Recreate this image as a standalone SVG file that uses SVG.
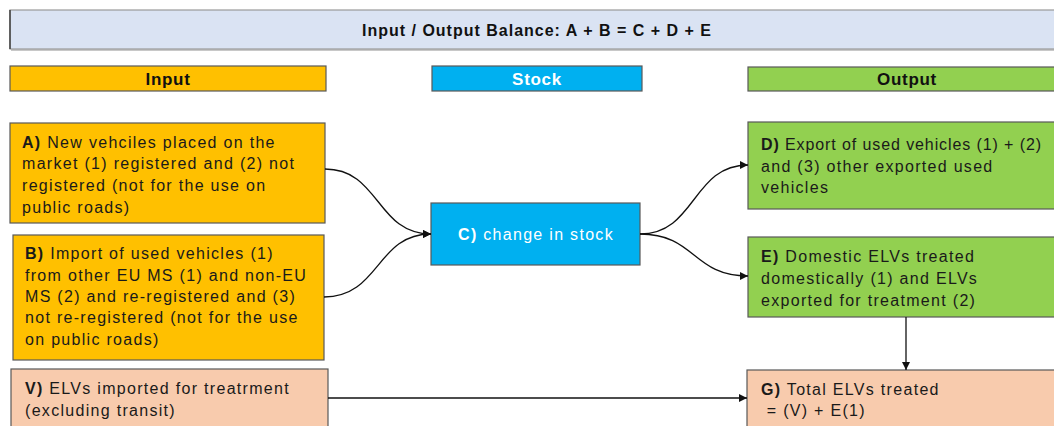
<svg xmlns="http://www.w3.org/2000/svg" width="1054" height="426" viewBox="0 0 1054 426">
<style>
  .box { stroke: #595959; stroke-width: 1.2; }
  .shadow { fill: #c8c8c8; }
  .t { font-family: "Liberation Sans", Arial, sans-serif; font-size: 16px; letter-spacing: 1.3px; fill: #1a1a1a; }
  .h { font-family: "Liberation Sans", Arial, sans-serif; font-size: 17px; font-weight: bold; letter-spacing: 0.7px; text-anchor: middle; fill: #111; }
  .b { font-weight: bold; }
  .conn { fill: none; stroke: #111; stroke-width: 1.3; }
  .orange { fill: #FFC000; }
  .blue { fill: #00B0F0; }
  .green { fill: #92D050; }
  .peach { fill: #F8CBAD; }
</style>
<defs>
  <marker id="arr" viewBox="0 0 10 10" refX="10" refY="5" markerWidth="8" markerHeight="8" markerUnits="userSpaceOnUse" orient="auto">
    <path d="M0,0 L10,5 L0,10 z" fill="#111"/>
  </marker>
</defs>
<rect width="1054" height="426" fill="#ffffff"/>

<g id="banner">
  <rect class="shadow" x="11" y="12" width="1060" height="39"/>
  <rect x="10" y="10" width="1060" height="39" fill="#DAE3F3" stroke="#9a9a9a" stroke-width="1.2"/>
  <line x1="10" y1="10" x2="10" y2="49" stroke="#404040" stroke-width="1.5"/>
  <text class="h" x="537" y="36" style="font-size:16px;letter-spacing:1px">Input / Output Balance: A + B = C + D + E</text>
</g>

<g id="hdr-input">
  <rect class="box orange" x="10" y="66" width="316" height="25"/>
  <text class="h" x="168" y="84.5">Input</text>
</g>
<g id="hdr-stock">
  <rect class="box blue" x="432" y="66" width="210" height="25"/>
  <text class="h" x="537" y="84.5" style="fill:#ffffff">Stock</text>
</g>
<g id="hdr-output">
  <rect class="box green" x="748" y="67" width="320" height="24"/>
  <text class="h" x="907" y="84.5">Output</text>
</g>

<g id="nodeA">
  <rect class="box orange" x="10" y="123" width="315" height="100"/>
  <text class="t" x="22" y="147.5"><tspan class="b">A)</tspan> New vehciles placed on the</text>
  <text class="t" x="22" y="168.5">market (1) registered and (2) not</text>
  <text class="t" x="22" y="190.5">registered (not for the use on</text>
  <text class="t" x="22" y="212.5">public roads)</text>
</g>

<g id="nodeB">
  <rect class="box orange" x="13" y="235" width="311" height="125"/>
  <text class="t" x="25" y="258.5"><tspan class="b">B)</tspan> Import of used vehicles (1)</text>
  <text class="t" x="25" y="280.5">from other EU MS (1) and non-EU</text>
  <text class="t" x="25" y="301.5">MS (2) and re-registered and (3)</text>
  <text class="t" x="25" y="322.5">not re-registered (not for the use</text>
  <text class="t" x="25" y="344.5">on public roads)</text>
</g>

<g id="nodeV">
  <rect class="box peach" x="11" y="369" width="317" height="70"/>
  <text class="t" x="25" y="393.5"><tspan class="b">V)</tspan> ELVs imported for treatrment</text>
  <text class="t" x="25" y="415.5">(excluding transit)</text>
</g>

<g id="nodeC">
  <rect class="box blue" x="431" y="203" width="209" height="62"/>
  <text class="t" x="536" y="239.5" text-anchor="middle" style="fill:#ffffff"><tspan class="b">C)</tspan> change in stock</text>
</g>

<g id="nodeD">
  <rect class="box green" x="748" y="122" width="320" height="87"/>
  <text class="t" x="761" y="149.5" style="letter-spacing:0.9px"><tspan class="b">D)</tspan> Export of used vehicles (1) + (2)</text>
  <text class="t" x="761" y="171.5">and (3) other exported used</text>
  <text class="t" x="761" y="192.5">vehicles</text>
</g>

<g id="nodeE">
  <rect class="box green" x="748" y="237" width="320" height="80"/>
  <text class="t" x="761" y="261.5"><tspan class="b">E)</tspan> Domestic ELVs treated</text>
  <text class="t" x="761" y="283.5">domestically (1) and ELVs</text>
  <text class="t" x="761" y="305.5">exported for treatment (2)</text>
</g>

<g id="nodeG">
  <rect class="box peach" x="747" y="370" width="321" height="70"/>
  <text class="t" x="761" y="394.5"><tspan class="b">G)</tspan> Total ELVs treated</text>
  <text class="t" x="761" y="415.5" xml:space="preserve"> = (V) + E(1)</text>
</g>

<g id="connectors">
  <path class="conn" d="M325,169 C380,169 376,234 431,234" marker-end="url(#arr)"/>
  <path class="conn" d="M324,297 C380,297 376,234 431,234" marker-end="url(#arr)"/>
  <path class="conn" d="M640,234 C696,234 692,165 748,165" marker-end="url(#arr)"/>
  <path class="conn" d="M640,234 C696,234 692,276 748,276" marker-end="url(#arr)"/>
  <path class="conn" d="M328,398 L747,398" marker-end="url(#arr)"/>
  <path class="conn" d="M906,317 L906,370" marker-end="url(#arr)"/>
</g>
</svg>
